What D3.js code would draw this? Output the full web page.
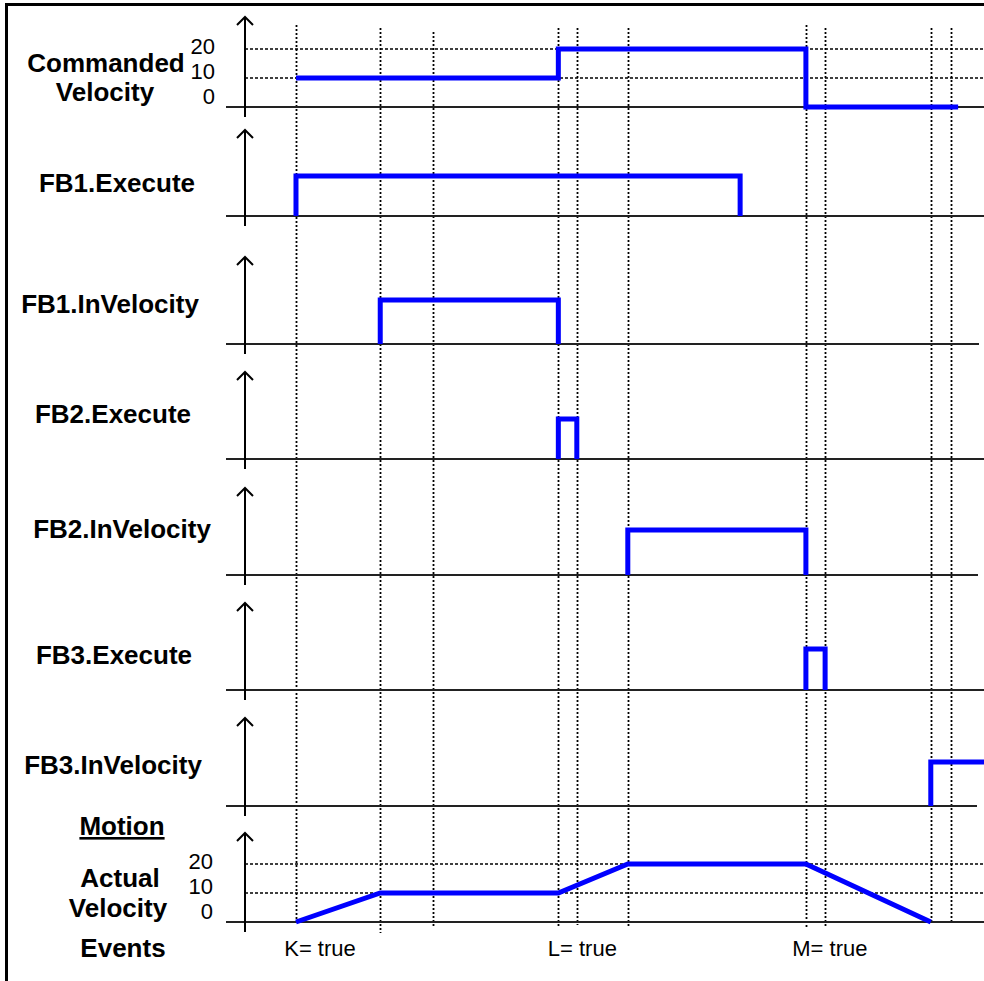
<!DOCTYPE html>
<html>
<head>
<meta charset="utf-8">
<script src="https://cdn.jsdelivr.net/npm/d3@7"></script>
<style>
  html, body { margin: 0; padding: 0; background: #fff; }
  svg { display: block; }
  text { font-family: "Liberation Sans", Arial, sans-serif; }
</style>
</head>
<body>
<script>
// ---------- DATA ----------
// time axis in arbitrary units (0..100 across the plotting area)
const eventTimes = [6.9, 18.3, 25.4, 42.4, 44.9, 51.8, 75.9, 78.5, 92.8, 95.5];
const eventLabels = ["K= true", "L= true", "M= true"];
const eventLabelTimes = [6.9, 42.4, 75.9];

const velocityTicks = [0, 10, 20];

// Commanded velocity
const cmdTimes  = [6.9, 42.4, 42.4, 75.9, 75.9, 96.5];
const cmdValues = [10, 10, 20, 20, 0, 0];

// boolean signals
const fb1ExecTimes  = [6.9, 6.9, 67.0, 67.0];
const fb1ExecValues = [0, 1, 1, 0];
const fb1InVelTimes  = [18.3, 18.3, 42.4, 42.4];
const fb1InVelValues = [0, 1, 1, 0];
const fb2ExecTimes  = [42.4, 42.4, 44.9, 44.9];
const fb2ExecValues = [0, 1, 1, 0];
const fb2InVelTimes  = [51.8, 51.8, 75.9, 75.9];
const fb2InVelValues = [0, 1, 1, 0];
const fb3ExecTimes  = [75.9, 75.9, 78.5, 78.5];
const fb3ExecValues = [0, 1, 1, 0];
const fb3InVelTimes  = [92.8, 92.8, 100];
const fb3InVelValues = [0, 1, 1];

// Actual velocity
const actTimes  = [6.9, 18.3, 42.4, 51.8, 75.9, 92.8];
const actValues = [0, 10, 10, 20, 20, 0];

// ---------- LAYOUT ----------
const W = 984, H = 981;
const axisX = 245;
const x = d3.scaleLinear().domain([0, 100]).range([axisX, 984]);

const panels = [
  { top: 17,  base: 107, high: 49,  max: 20, times: cmdTimes,     values: cmdValues,     velocity: true, baseEnd: 984,
    label: ["Commanded", "Velocity"], labelY: [72, 101], labelX: [106, 105] },
  { top: 130, base: 216, high: 176, max: 1,  times: fb1ExecTimes,  values: fb1ExecValues, baseEnd: 984,
    label: ["FB1.Execute"], labelY: [192], labelX: [117] },
  { top: 257, base: 344, high: 300, max: 1,  times: fb1InVelTimes, values: fb1InVelValues, baseEnd: 979,
    label: ["FB1.InVelocity"], labelY: [313], labelX: [110] },
  { top: 372, base: 459, high: 419, max: 1,  times: fb2ExecTimes,  values: fb2ExecValues, baseEnd: 984,
    label: ["FB2.Execute"], labelY: [423], labelX: [113] },
  { top: 488, base: 575, high: 530, max: 1,  times: fb2InVelTimes, values: fb2InVelValues, baseEnd: 978,
    label: ["FB2.InVelocity"], labelY: [538], labelX: [122] },
  { top: 603, base: 690, high: 649, max: 1,  times: fb3ExecTimes,  values: fb3ExecValues, baseEnd: 984,
    label: ["FB3.Execute"], labelY: [664], labelX: [114] },
  { top: 718, base: 806, high: 762, max: 1,  times: fb3InVelTimes, values: fb3InVelValues, baseEnd: 977,
    label: ["FB3.InVelocity"], labelY: [774], labelX: [113] },
  { top: 833, base: 922, high: 864, max: 20, times: actTimes,     values: actValues,     velocity: true, baseEnd: 984,
    label: ["Actual", "Velocity"], labelY: [887, 917], labelX: [120, 118] }
];

const svg = d3.select("body").append("svg")
  .attr("width", W).attr("height", H)
  .attr("viewBox", `0 0 ${W} ${H}`);

svg.append("rect").attr("width", W).attr("height", H).attr("fill", "#fff");

// border (top and left)
svg.append("line").attr("x1", 5).attr("x2", W).attr("y1", 4.5).attr("y2", 4.5)
  .attr("stroke", "#000").attr("stroke-width", 3);
svg.append("line").attr("x1", 6.5).attr("x2", 6.5).attr("y1", 3).attr("y2", H)
  .attr("stroke", "#000").attr("stroke-width", 3);

// vertical event lines (dotted)
const vTop = [25, 28, 32, 28, 28, 28, 25, 28, 28, 28];
const vBot = [922, 933, 927, 927, 925, 927, 927, 927, 922, 922];
svg.append("g").selectAll("line").data(eventTimes).join("line")
  .attr("x1", d => Math.round(x(d)) + 0.5).attr("x2", d => Math.round(x(d)) + 0.5)
  .attr("y1", (d, i) => vTop[i]).attr("y2", (d, i) => vBot[i])
  .attr("stroke", "#000").attr("stroke-width", 1.8)
  .attr("stroke-dasharray", "2,2");

const lineGen = d3.line();

panels.forEach((p, pi) => {
  const g = svg.append("g");
  const y = d3.scaleLinear().domain([0, p.max]).range([p.base, p.high]);

  if (p.velocity) {
    g.selectAll("line.grid").data(velocityTicks.filter(v => v > 0)).join("line")
      .attr("class", "grid")
      .attr("x1", axisX).attr("x2", W)
      .attr("y1", d => y(d)).attr("y2", d => y(d))
      .attr("stroke", "#000").attr("stroke-width", 1.4)
      .attr("stroke-dasharray", "3,2");
    const ly = d3.scaleLinear().domain([0, 20]).range([p.base - 3, p.high + 5]);
    g.selectAll("text.tick").data(velocityTicks).join("text")
      .attr("class", "tick")
      .attr("x", pi === 0 ? 215 : 213)
      .attr("y", d => ly(d))
      .attr("text-anchor", "end")
      .attr("font-size", 22)
      .attr("fill", "#000")
      .text(d => d);
  }

  g.append("line")
    .attr("x1", 226).attr("x2", p.baseEnd)
    .attr("y1", p.base).attr("y2", p.base)
    .attr("stroke", "#222").attr("stroke-width", 2);

  g.append("line")
    .attr("x1", axisX).attr("x2", axisX)
    .attr("y1", p.top).attr("y2", p.base + 10)
    .attr("stroke", "#000").attr("stroke-width", 2);
  g.append("path")
    .attr("d", `M${axisX - 8},${p.top + 8} L${axisX},${p.top} L${axisX + 8},${p.top + 8}`)
    .attr("fill", "none").attr("stroke", "#000").attr("stroke-width", 2);

  const pts = p.times.map((t, i) => [x(t), y(p.values[i])]);
  g.append("path")
    .attr("d", lineGen(pts))
    .attr("fill", "none")
    .attr("stroke", "#0000ff")
    .attr("stroke-width", 5)
    .attr("stroke-linejoin", "miter")
    .attr("stroke-linecap", "butt");

  g.selectAll("text.label").data(p.label).join("text")
    .attr("class", "label")
    .attr("x", (d, i) => p.labelX[i])
    .attr("y", (d, i) => p.labelY[i])
    .attr("text-anchor", "middle")
    .attr("font-size", 26)
    .attr("font-weight", "bold")
    .attr("fill", "#000")
    .text(d => d);
});

svg.append("text")
  .attr("x", 122).attr("y", 835)
  .attr("text-anchor", "middle")
  .attr("font-size", 26).attr("font-weight", "bold")
  .attr("text-decoration", "underline")
  .text("Motion");

svg.append("text")
  .attr("x", 123).attr("y", 957)
  .attr("text-anchor", "middle")
  .attr("font-size", 26).attr("font-weight", "bold")
  .text("Events");

svg.append("g").selectAll("text").data(eventLabels).join("text")
  .attr("x", (d, i) => x(eventLabelTimes[i]) + 24)
  .attr("y", 956)
  .attr("text-anchor", "middle")
  .attr("font-size", 22)
  .text(d => d);
</script>
</body>
</html>
